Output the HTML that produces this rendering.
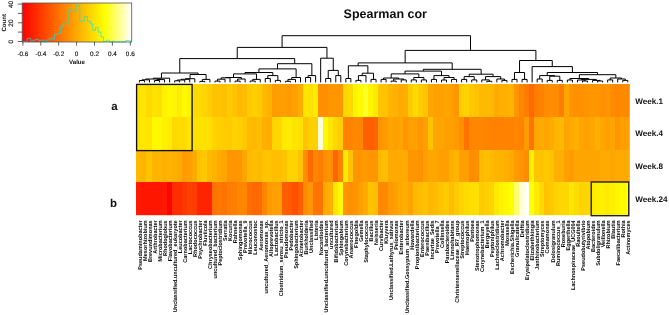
<!DOCTYPE html>
<html><head><meta charset="utf-8"><title>Spearman cor</title>
<style>
html,body{margin:0;padding:0;background:#fff;}
body{width:669px;height:315px;overflow:hidden;}
svg{display:block;will-change:transform;}
text{font-family:"Liberation Sans",sans-serif;text-rendering:geometricPrecision;}
</style></head><body>
<svg width="669" height="315" viewBox="0 0 669 315">
<defs><linearGradient id="kg" x1="0" x2="1" y1="0" y2="0"><stop offset="0" stop-color="#ff0000"/><stop offset="0.75" stop-color="#ffff00"/><stop offset="1" stop-color="#ffffff"/></linearGradient></defs>
<rect width="669" height="315" fill="#fff"/>
<g id="key">
<rect x="22.2" y="3.0" width="109.5" height="39.0" fill="url(#kg)"/>
<polyline fill="none" stroke="#00e8e8" stroke-width="0.65" points="22.2,41.5 27.2,41.5 27.2,38.4 30.8,38.4 30.8,41.3 32.6,41.3 32.6,40.2 35.7,40.2 35.7,39.3 38.4,39.3 38.4,40.6 40.6,40.6 40.6,40.2 44.2,40.2 44.2,42 46.5,42 46.5,40.2 49.1,40.2 49.1,38.4 52.7,38.4 52.7,39.3 54.5,39.3 54.5,34.3 57.2,34.3 57.2,33.5 60.4,33.5 60.4,26.7 63,26.7 63,24 65.7,24 65.7,23.1 68.9,23.1 68.9,9.4 71.5,9.4 71.5,11.2 76.2,11.2 76.2,5.4 79.8,5.4 79.8,21 84.3,21 84.3,16.6 87.5,16.6 87.5,21.3 90.6,21.3 90.6,24 92.8,24 92.8,30.3 95.5,30.3 95.5,27.6 98.2,27.6 98.2,32.1 100.9,32.1 100.9,37 103.6,37 103.6,41.5 106.7,41.5 106.7,40.2 109.4,40.2 109.4,42 112.1,42 112.1,41.1 114.8,41.1 114.8,42 125.6,42 125.6,40.6 130.5,40.6 130.5,42"/>
<rect x="22.2" y="3.0" width="109.5" height="39.0" fill="none" stroke="#555" stroke-width="0.8"/>
<line x1="22.9" y1="42" x2="22.9" y2="45.6" stroke="#222" stroke-width="0.7"/><text x="22.9" y="56.2" font-size="6.4" text-anchor="middle" fill="#111" stroke="#111" stroke-width="0.15">-0.6</text>
<line x1="40.8" y1="42" x2="40.8" y2="45.6" stroke="#222" stroke-width="0.7"/><text x="40.8" y="56.2" font-size="6.4" text-anchor="middle" fill="#111" stroke="#111" stroke-width="0.15">-0.4</text>
<line x1="58.7" y1="42" x2="58.7" y2="45.6" stroke="#222" stroke-width="0.7"/><text x="58.7" y="56.2" font-size="6.4" text-anchor="middle" fill="#111" stroke="#111" stroke-width="0.15">-0.2</text>
<line x1="76.6" y1="42" x2="76.6" y2="45.6" stroke="#222" stroke-width="0.7"/><text x="76.6" y="56.2" font-size="6.4" text-anchor="middle" fill="#111" stroke="#111" stroke-width="0.15">0</text>
<line x1="94.5" y1="42" x2="94.5" y2="45.6" stroke="#222" stroke-width="0.7"/><text x="94.5" y="56.2" font-size="6.4" text-anchor="middle" fill="#111" stroke="#111" stroke-width="0.15">0.2</text>
<line x1="112.4" y1="42" x2="112.4" y2="45.6" stroke="#222" stroke-width="0.7"/><text x="112.4" y="56.2" font-size="6.4" text-anchor="middle" fill="#111" stroke="#111" stroke-width="0.15">0.4</text>
<line x1="130.3" y1="42" x2="130.3" y2="45.6" stroke="#222" stroke-width="0.7"/><text x="130.3" y="56.2" font-size="6.4" text-anchor="middle" fill="#111" stroke="#111" stroke-width="0.15">0.6</text>
<text x="77" y="63.5" font-size="6.1" font-weight="bold" text-anchor="middle" fill="#111">Value</text>
<line x1="17.8" y1="41.5" x2="22.2" y2="41.5" stroke="#222" stroke-width="0.7"/><line x1="17.8" y1="32.1" x2="22.2" y2="32.1" stroke="#222" stroke-width="0.7"/><line x1="17.8" y1="22.8" x2="22.2" y2="22.8" stroke="#222" stroke-width="0.7"/><line x1="17.8" y1="13.4" x2="22.2" y2="13.4" stroke="#222" stroke-width="0.7"/><line x1="17.8" y1="4.1" x2="22.2" y2="4.1" stroke="#222" stroke-width="0.7"/><text transform="translate(12.8,41.8) rotate(-90)" font-size="6.4" text-anchor="middle" fill="#111" stroke="#111" stroke-width="0.15">0</text>
<text transform="translate(12.8,23.1) rotate(-90)" font-size="6.4" text-anchor="middle" fill="#111" stroke="#111" stroke-width="0.15">20</text>
<text transform="translate(12.8,4.3999999999999995) rotate(-90)" font-size="6.4" text-anchor="middle" fill="#111" stroke="#111" stroke-width="0.15">40</text>
<text transform="translate(6,22.8) rotate(-90)" font-size="6.1" font-weight="bold" text-anchor="middle" fill="#111">Count</text>
</g>
<text x="385.3" y="18.2" font-size="12.5" font-weight="bold" text-anchor="middle" fill="#111">Spearman cor</text>
<g id="heat" shape-rendering="crispEdges">
<rect x="136.40" y="83.80" width="5.33" height="33.15" fill="#ffe300"/><rect x="141.43" y="83.80" width="5.33" height="33.15" fill="#ffe600"/><rect x="146.47" y="83.80" width="5.33" height="33.15" fill="#ffd900"/><rect x="151.50" y="83.80" width="5.33" height="33.15" fill="#ffe300"/><rect x="156.54" y="83.80" width="5.33" height="33.15" fill="#ffdf00"/><rect x="161.57" y="83.80" width="5.33" height="33.15" fill="#fff300"/><rect x="166.61" y="83.80" width="5.33" height="33.15" fill="#fff700"/><rect x="171.64" y="83.80" width="5.33" height="33.15" fill="#fff500"/><rect x="176.68" y="83.80" width="5.33" height="33.15" fill="#ffed00"/><rect x="181.71" y="83.80" width="5.33" height="33.15" fill="#fffa00"/><rect x="186.75" y="83.80" width="5.33" height="33.15" fill="#fff300"/><rect x="191.78" y="83.80" width="10.37" height="33.15" fill="#ffda00"/><rect x="201.85" y="83.80" width="5.33" height="33.15" fill="#ffd400"/><rect x="206.89" y="83.80" width="5.33" height="33.15" fill="#ffcd00"/><rect x="211.92" y="83.80" width="10.37" height="33.15" fill="#ffc300"/><rect x="221.99" y="83.80" width="5.33" height="33.15" fill="#ffc000"/><rect x="227.02" y="83.80" width="5.33" height="33.15" fill="#ffcb00"/><rect x="232.06" y="83.80" width="5.33" height="33.15" fill="#ffc300"/><rect x="237.09" y="83.80" width="5.33" height="33.15" fill="#ffba00"/><rect x="242.13" y="83.80" width="5.33" height="33.15" fill="#ffbc00"/><rect x="247.16" y="83.80" width="5.33" height="33.15" fill="#ffcb00"/><rect x="252.20" y="83.80" width="5.33" height="33.15" fill="#ffd000"/><rect x="257.23" y="83.80" width="5.33" height="33.15" fill="#ffcb00"/><rect x="262.27" y="83.80" width="5.33" height="33.15" fill="#ffba00"/><rect x="267.30" y="83.80" width="5.33" height="33.15" fill="#ffb200"/><rect x="272.34" y="83.80" width="5.33" height="33.15" fill="#ff9d00"/><rect x="277.37" y="83.80" width="10.37" height="33.15" fill="#ff9e00"/><rect x="287.44" y="83.80" width="5.33" height="33.15" fill="#ff9b00"/><rect x="292.48" y="83.80" width="5.33" height="33.15" fill="#ffa000"/><rect x="297.51" y="83.80" width="5.33" height="33.15" fill="#ffac00"/><rect x="302.54" y="83.80" width="5.33" height="33.15" fill="#ffe600"/><rect x="307.58" y="83.80" width="5.33" height="33.15" fill="#ffe100"/><rect x="312.61" y="83.80" width="5.33" height="33.15" fill="#ffeb00"/><rect x="317.65" y="83.80" width="10.37" height="33.15" fill="#ff8f00"/><rect x="327.72" y="83.80" width="15.40" height="33.15" fill="#ff9600"/><rect x="342.82" y="83.80" width="5.33" height="33.15" fill="#ffd700"/><rect x="347.86" y="83.80" width="5.33" height="33.15" fill="#ffdc00"/><rect x="352.89" y="83.80" width="5.33" height="33.15" fill="#fff500"/><rect x="357.93" y="83.80" width="5.33" height="33.15" fill="#fffa00"/><rect x="362.96" y="83.80" width="5.33" height="33.15" fill="#ffff28"/><rect x="368.00" y="83.80" width="5.33" height="33.15" fill="#fff500"/><rect x="373.03" y="83.80" width="5.33" height="33.15" fill="#ffeb00"/><rect x="378.07" y="83.80" width="10.37" height="33.15" fill="#ffc300"/><rect x="388.13" y="83.80" width="5.33" height="33.15" fill="#ffb400"/><rect x="393.17" y="83.80" width="5.33" height="33.15" fill="#ffb200"/><rect x="398.20" y="83.80" width="5.33" height="33.15" fill="#ffaa00"/><rect x="403.24" y="83.80" width="5.33" height="33.15" fill="#ffac00"/><rect x="408.27" y="83.80" width="5.33" height="33.15" fill="#ffcd00"/><rect x="413.31" y="83.80" width="5.33" height="33.15" fill="#ffdc00"/><rect x="418.34" y="83.80" width="5.33" height="33.15" fill="#ffcd00"/><rect x="423.38" y="83.80" width="5.33" height="33.15" fill="#ffc300"/><rect x="428.41" y="83.80" width="5.33" height="33.15" fill="#ffa500"/><rect x="433.45" y="83.80" width="10.37" height="33.15" fill="#ffa000"/><rect x="443.52" y="83.80" width="5.33" height="33.15" fill="#ffa500"/><rect x="448.55" y="83.80" width="5.33" height="33.15" fill="#ffa000"/><rect x="453.59" y="83.80" width="5.33" height="33.15" fill="#ff9600"/><rect x="458.62" y="83.80" width="5.33" height="33.15" fill="#ffcd00"/><rect x="463.66" y="83.80" width="5.33" height="33.15" fill="#ffd200"/><rect x="468.69" y="83.80" width="5.33" height="33.15" fill="#ffc800"/><rect x="473.72" y="83.80" width="5.33" height="33.15" fill="#ffc300"/><rect x="478.76" y="83.80" width="15.40" height="33.15" fill="#ffb900"/><rect x="493.86" y="83.80" width="5.33" height="33.15" fill="#ffaa00"/><rect x="498.90" y="83.80" width="10.37" height="33.15" fill="#ffaf00"/><rect x="508.97" y="83.80" width="5.33" height="33.15" fill="#ffb400"/><rect x="514.00" y="83.80" width="5.33" height="33.15" fill="#ff9600"/><rect x="519.04" y="83.80" width="5.33" height="33.15" fill="#ff8700"/><rect x="524.07" y="83.80" width="5.33" height="33.15" fill="#ff7d00"/><rect x="529.11" y="83.80" width="5.33" height="33.15" fill="#ff6900"/><rect x="534.14" y="83.80" width="5.33" height="33.15" fill="#ff7d00"/><rect x="539.18" y="83.80" width="5.33" height="33.15" fill="#ff8200"/><rect x="544.21" y="83.80" width="5.33" height="33.15" fill="#ff8c00"/><rect x="549.24" y="83.80" width="5.33" height="33.15" fill="#ff8e00"/><rect x="554.28" y="83.80" width="5.33" height="33.15" fill="#ff8c00"/><rect x="559.31" y="83.80" width="5.33" height="33.15" fill="#ff7d00"/><rect x="564.35" y="83.80" width="5.33" height="33.15" fill="#ffa500"/><rect x="569.38" y="83.80" width="5.33" height="33.15" fill="#ff9300"/><rect x="574.42" y="83.80" width="10.37" height="33.15" fill="#ff9100"/><rect x="584.49" y="83.80" width="5.33" height="33.15" fill="#ff9300"/><rect x="589.52" y="83.80" width="10.37" height="33.15" fill="#ff9600"/><rect x="599.59" y="83.80" width="5.33" height="33.15" fill="#ff9100"/><rect x="604.63" y="83.80" width="5.33" height="33.15" fill="#ff9600"/><rect x="609.66" y="83.80" width="5.33" height="33.15" fill="#ff8c00"/><rect x="614.70" y="83.80" width="5.33" height="33.15" fill="#ff8700"/><rect x="619.73" y="83.80" width="10.37" height="33.15" fill="#ff8a00"/>
<rect x="136.40" y="116.65" width="5.33" height="33.15" fill="#ffe500"/><rect x="141.43" y="116.65" width="5.33" height="33.15" fill="#ffe800"/><rect x="146.47" y="116.65" width="5.33" height="33.15" fill="#ffe500"/><rect x="151.50" y="116.65" width="10.37" height="33.15" fill="#fff900"/><rect x="161.57" y="116.65" width="5.33" height="33.15" fill="#ffef00"/><rect x="166.61" y="116.65" width="5.33" height="33.15" fill="#ffec00"/><rect x="171.64" y="116.65" width="5.33" height="33.15" fill="#ffd800"/><rect x="176.68" y="116.65" width="10.37" height="33.15" fill="#ffdb00"/><rect x="186.75" y="116.65" width="5.33" height="33.15" fill="#ffe500"/><rect x="191.78" y="116.65" width="10.37" height="33.15" fill="#ffe100"/><rect x="201.85" y="116.65" width="5.33" height="33.15" fill="#ffe200"/><rect x="206.89" y="116.65" width="5.33" height="33.15" fill="#ffde00"/><rect x="211.92" y="116.65" width="5.33" height="33.15" fill="#ffd200"/><rect x="216.96" y="116.65" width="5.33" height="33.15" fill="#ffd000"/><rect x="221.99" y="116.65" width="5.33" height="33.15" fill="#ffcd00"/><rect x="227.02" y="116.65" width="5.33" height="33.15" fill="#ffcb00"/><rect x="232.06" y="116.65" width="5.33" height="33.15" fill="#ffd200"/><rect x="237.09" y="116.65" width="5.33" height="33.15" fill="#ffd000"/><rect x="242.13" y="116.65" width="5.33" height="33.15" fill="#ffc800"/><rect x="247.16" y="116.65" width="5.33" height="33.15" fill="#ffba00"/><rect x="252.20" y="116.65" width="5.33" height="33.15" fill="#ffb800"/><rect x="257.23" y="116.65" width="5.33" height="33.15" fill="#ffbe00"/><rect x="262.27" y="116.65" width="5.33" height="33.15" fill="#ffaf00"/><rect x="267.30" y="116.65" width="5.33" height="33.15" fill="#ffac00"/><rect x="272.34" y="116.65" width="5.33" height="33.15" fill="#ffd400"/><rect x="277.37" y="116.65" width="5.33" height="33.15" fill="#ffd700"/><rect x="282.41" y="116.65" width="10.37" height="33.15" fill="#ffeb00"/><rect x="292.48" y="116.65" width="5.33" height="33.15" fill="#ffe400"/><rect x="297.51" y="116.65" width="5.33" height="33.15" fill="#ffe100"/><rect x="302.54" y="116.65" width="5.33" height="33.15" fill="#ffc300"/><rect x="307.58" y="116.65" width="10.37" height="33.15" fill="#ffd000"/><rect x="317.65" y="116.65" width="5.33" height="33.15" fill="#ffffdc"/><rect x="322.68" y="116.65" width="5.33" height="33.15" fill="#fff800"/><rect x="327.72" y="116.65" width="5.33" height="33.15" fill="#ffe600"/><rect x="332.75" y="116.65" width="5.33" height="33.15" fill="#ffd700"/><rect x="337.79" y="116.65" width="5.33" height="33.15" fill="#ffcd00"/><rect x="342.82" y="116.65" width="10.37" height="33.15" fill="#ff8200"/><rect x="352.89" y="116.65" width="5.33" height="33.15" fill="#ff8a00"/><rect x="357.93" y="116.65" width="5.33" height="33.15" fill="#ff8700"/><rect x="362.96" y="116.65" width="10.37" height="33.15" fill="#ff5f00"/><rect x="373.03" y="116.65" width="5.33" height="33.15" fill="#ff6400"/><rect x="378.07" y="116.65" width="5.33" height="33.15" fill="#ff9600"/><rect x="383.10" y="116.65" width="5.33" height="33.15" fill="#ff9b00"/><rect x="388.13" y="116.65" width="5.33" height="33.15" fill="#ffa500"/><rect x="393.17" y="116.65" width="5.33" height="33.15" fill="#ffa000"/><rect x="398.20" y="116.65" width="5.33" height="33.15" fill="#ffa500"/><rect x="403.24" y="116.65" width="5.33" height="33.15" fill="#ff9600"/><rect x="408.27" y="116.65" width="10.37" height="33.15" fill="#ffa000"/><rect x="418.34" y="116.65" width="5.33" height="33.15" fill="#ff9600"/><rect x="423.38" y="116.65" width="5.33" height="33.15" fill="#ffa000"/><rect x="428.41" y="116.65" width="5.33" height="33.15" fill="#ffc300"/><rect x="433.45" y="116.65" width="10.37" height="33.15" fill="#ffa500"/><rect x="443.52" y="116.65" width="10.37" height="33.15" fill="#ffa000"/><rect x="453.59" y="116.65" width="5.33" height="33.15" fill="#ff9b00"/><rect x="458.62" y="116.65" width="5.33" height="33.15" fill="#ff9100"/><rect x="463.66" y="116.65" width="5.33" height="33.15" fill="#ff7300"/><rect x="468.69" y="116.65" width="15.40" height="33.15" fill="#ff8700"/><rect x="483.79" y="116.65" width="30.51" height="33.15" fill="#ff8200"/><rect x="514.00" y="116.65" width="5.33" height="33.15" fill="#ff8700"/><rect x="519.04" y="116.65" width="5.33" height="33.15" fill="#ff8200"/><rect x="524.07" y="116.65" width="5.33" height="33.15" fill="#ff9b00"/><rect x="529.11" y="116.65" width="5.33" height="33.15" fill="#ff7300"/><rect x="534.14" y="116.65" width="5.33" height="33.15" fill="#ffa500"/><rect x="539.18" y="116.65" width="5.33" height="33.15" fill="#ffaa00"/><rect x="544.21" y="116.65" width="5.33" height="33.15" fill="#ffa500"/><rect x="549.24" y="116.65" width="5.33" height="33.15" fill="#ffaa00"/><rect x="554.28" y="116.65" width="5.33" height="33.15" fill="#ffb400"/><rect x="559.31" y="116.65" width="5.33" height="33.15" fill="#ffb900"/><rect x="564.35" y="116.65" width="5.33" height="33.15" fill="#ffa500"/><rect x="569.38" y="116.65" width="5.33" height="33.15" fill="#ffaa00"/><rect x="574.42" y="116.65" width="5.33" height="33.15" fill="#ffaf00"/><rect x="579.45" y="116.65" width="5.33" height="33.15" fill="#ffa500"/><rect x="584.49" y="116.65" width="5.33" height="33.15" fill="#ffa000"/><rect x="589.52" y="116.65" width="5.33" height="33.15" fill="#ffa500"/><rect x="594.56" y="116.65" width="5.33" height="33.15" fill="#ffaf00"/><rect x="599.59" y="116.65" width="5.33" height="33.15" fill="#ffa500"/><rect x="604.63" y="116.65" width="5.33" height="33.15" fill="#ffa000"/><rect x="609.66" y="116.65" width="5.33" height="33.15" fill="#ffa500"/><rect x="614.70" y="116.65" width="5.33" height="33.15" fill="#ff9600"/><rect x="619.73" y="116.65" width="10.37" height="33.15" fill="#ffa000"/>
<rect x="136.40" y="149.50" width="5.33" height="33.15" fill="#ffb900"/><rect x="141.43" y="149.50" width="5.33" height="33.15" fill="#ffb400"/><rect x="146.47" y="149.50" width="5.33" height="33.15" fill="#ffc300"/><rect x="151.50" y="149.50" width="10.37" height="33.15" fill="#ffb400"/><rect x="161.57" y="149.50" width="5.33" height="33.15" fill="#ffaf00"/><rect x="166.61" y="149.50" width="5.33" height="33.15" fill="#ffb400"/><rect x="171.64" y="149.50" width="5.33" height="33.15" fill="#ffaf00"/><rect x="176.68" y="149.50" width="5.33" height="33.15" fill="#ffaa00"/><rect x="181.71" y="149.50" width="5.33" height="33.15" fill="#ff9b00"/><rect x="186.75" y="149.50" width="5.33" height="33.15" fill="#ffa000"/><rect x="191.78" y="149.50" width="5.33" height="33.15" fill="#ffaa00"/><rect x="196.82" y="149.50" width="5.33" height="33.15" fill="#ffc300"/><rect x="201.85" y="149.50" width="5.33" height="33.15" fill="#ffc800"/><rect x="206.89" y="149.50" width="5.33" height="33.15" fill="#ffb900"/><rect x="211.92" y="149.50" width="5.33" height="33.15" fill="#ffb400"/><rect x="216.96" y="149.50" width="5.33" height="33.15" fill="#ffaa00"/><rect x="221.99" y="149.50" width="5.33" height="33.15" fill="#ffa500"/><rect x="227.02" y="149.50" width="15.40" height="33.15" fill="#ff9600"/><rect x="242.13" y="149.50" width="5.33" height="33.15" fill="#ffa500"/><rect x="247.16" y="149.50" width="5.33" height="33.15" fill="#ffb900"/><rect x="252.20" y="149.50" width="5.33" height="33.15" fill="#ffbe00"/><rect x="257.23" y="149.50" width="5.33" height="33.15" fill="#ffb900"/><rect x="262.27" y="149.50" width="10.37" height="33.15" fill="#ffc300"/><rect x="272.34" y="149.50" width="10.37" height="33.15" fill="#ffbe00"/><rect x="282.41" y="149.50" width="5.33" height="33.15" fill="#ffc300"/><rect x="287.44" y="149.50" width="10.37" height="33.15" fill="#ffd200"/><rect x="297.51" y="149.50" width="5.33" height="33.15" fill="#ffc300"/><rect x="302.54" y="149.50" width="5.33" height="33.15" fill="#ff8c00"/><rect x="307.58" y="149.50" width="5.33" height="33.15" fill="#ff6900"/><rect x="312.61" y="149.50" width="5.33" height="33.15" fill="#ff8700"/><rect x="317.65" y="149.50" width="5.33" height="33.15" fill="#ff7d00"/><rect x="322.68" y="149.50" width="10.37" height="33.15" fill="#ff9100"/><rect x="332.75" y="149.50" width="5.33" height="33.15" fill="#ff6400"/><rect x="337.79" y="149.50" width="5.33" height="33.15" fill="#ff8200"/><rect x="342.82" y="149.50" width="5.33" height="33.15" fill="#ffeb00"/><rect x="347.86" y="149.50" width="5.33" height="33.15" fill="#ffc300"/><rect x="352.89" y="149.50" width="10.37" height="33.15" fill="#ff9600"/><rect x="362.96" y="149.50" width="5.33" height="33.15" fill="#ff9b00"/><rect x="368.00" y="149.50" width="10.37" height="33.15" fill="#ff9600"/><rect x="378.07" y="149.50" width="5.33" height="33.15" fill="#ffb900"/><rect x="383.10" y="149.50" width="5.33" height="33.15" fill="#ffbe00"/><rect x="388.13" y="149.50" width="20.44" height="33.15" fill="#ffaa00"/><rect x="408.27" y="149.50" width="10.37" height="33.15" fill="#ff9600"/><rect x="418.34" y="149.50" width="5.33" height="33.15" fill="#ff9100"/><rect x="423.38" y="149.50" width="5.33" height="33.15" fill="#ffa000"/><rect x="428.41" y="149.50" width="10.37" height="33.15" fill="#ffa500"/><rect x="438.48" y="149.50" width="10.37" height="33.15" fill="#ffa000"/><rect x="448.55" y="149.50" width="5.33" height="33.15" fill="#ffaf00"/><rect x="453.59" y="149.50" width="5.33" height="33.15" fill="#ffb400"/><rect x="458.62" y="149.50" width="10.37" height="33.15" fill="#ffa000"/><rect x="468.69" y="149.50" width="5.33" height="33.15" fill="#ff8c00"/><rect x="473.72" y="149.50" width="5.33" height="33.15" fill="#ff9100"/><rect x="478.76" y="149.50" width="5.33" height="33.15" fill="#ffb900"/><rect x="483.79" y="149.50" width="5.33" height="33.15" fill="#ffbe00"/><rect x="488.83" y="149.50" width="5.33" height="33.15" fill="#ffb900"/><rect x="493.86" y="149.50" width="10.37" height="33.15" fill="#ffb400"/><rect x="503.93" y="149.50" width="5.33" height="33.15" fill="#ffaf00"/><rect x="508.97" y="149.50" width="5.33" height="33.15" fill="#ffaa00"/><rect x="514.00" y="149.50" width="5.33" height="33.15" fill="#ff9b00"/><rect x="519.04" y="149.50" width="5.33" height="33.15" fill="#ff9600"/><rect x="524.07" y="149.50" width="5.33" height="33.15" fill="#ff8c00"/><rect x="529.11" y="149.50" width="5.33" height="33.15" fill="#fff000"/><rect x="534.14" y="149.50" width="10.37" height="33.15" fill="#ffc300"/><rect x="544.21" y="149.50" width="5.33" height="33.15" fill="#ffc800"/><rect x="549.24" y="149.50" width="5.33" height="33.15" fill="#ffc300"/><rect x="554.28" y="149.50" width="10.37" height="33.15" fill="#ffaf00"/><rect x="564.35" y="149.50" width="5.33" height="33.15" fill="#ffa000"/><rect x="569.38" y="149.50" width="5.33" height="33.15" fill="#ff9b00"/><rect x="574.42" y="149.50" width="25.47" height="33.15" fill="#ffa500"/><rect x="599.59" y="149.50" width="10.37" height="33.15" fill="#ffaa00"/><rect x="609.66" y="149.50" width="5.33" height="33.15" fill="#ffa500"/><rect x="614.70" y="149.50" width="15.40" height="33.15" fill="#ffaa00"/>
<rect x="136.40" y="182.35" width="5.33" height="33.15" fill="#ff1900"/><rect x="141.43" y="182.35" width="20.44" height="33.15" fill="#ff1600"/><rect x="161.57" y="182.35" width="5.33" height="33.15" fill="#ff1900"/><rect x="166.61" y="182.35" width="5.33" height="33.15" fill="#ff0500"/><rect x="171.64" y="182.35" width="10.37" height="33.15" fill="#ff2d00"/><rect x="181.71" y="182.35" width="5.33" height="33.15" fill="#ff3700"/><rect x="186.75" y="182.35" width="5.33" height="33.15" fill="#ff4100"/><rect x="191.78" y="182.35" width="5.33" height="33.15" fill="#ff3c00"/><rect x="196.82" y="182.35" width="15.40" height="33.15" fill="#ff2300"/><rect x="211.92" y="182.35" width="5.33" height="33.15" fill="#ff7300"/><rect x="216.96" y="182.35" width="5.33" height="33.15" fill="#ff7800"/><rect x="221.99" y="182.35" width="5.33" height="33.15" fill="#ff7300"/><rect x="227.02" y="182.35" width="10.37" height="33.15" fill="#ff7d00"/><rect x="237.09" y="182.35" width="10.37" height="33.15" fill="#ff8700"/><rect x="247.16" y="182.35" width="5.33" height="33.15" fill="#ff6e00"/><rect x="252.20" y="182.35" width="10.37" height="33.15" fill="#ff6900"/><rect x="262.27" y="182.35" width="5.33" height="33.15" fill="#ff8700"/><rect x="267.30" y="182.35" width="5.33" height="33.15" fill="#ff9b00"/><rect x="272.34" y="182.35" width="10.37" height="33.15" fill="#ffa000"/><rect x="282.41" y="182.35" width="5.33" height="33.15" fill="#ff5f00"/><rect x="287.44" y="182.35" width="5.33" height="33.15" fill="#ff5a00"/><rect x="292.48" y="182.35" width="5.33" height="33.15" fill="#ff5000"/><rect x="297.51" y="182.35" width="5.33" height="33.15" fill="#ff5f00"/><rect x="302.54" y="182.35" width="5.33" height="33.15" fill="#ff8c00"/><rect x="307.58" y="182.35" width="5.33" height="33.15" fill="#ff9600"/><rect x="312.61" y="182.35" width="10.37" height="33.15" fill="#ff7300"/><rect x="322.68" y="182.35" width="5.33" height="33.15" fill="#ffaa00"/><rect x="327.72" y="182.35" width="5.33" height="33.15" fill="#ffaf00"/><rect x="332.75" y="182.35" width="5.33" height="33.15" fill="#ffe600"/><rect x="337.79" y="182.35" width="5.33" height="33.15" fill="#fffa00"/><rect x="342.82" y="182.35" width="5.33" height="33.15" fill="#ff9600"/><rect x="347.86" y="182.35" width="5.33" height="33.15" fill="#ff9100"/><rect x="352.89" y="182.35" width="5.33" height="33.15" fill="#ff9600"/><rect x="357.93" y="182.35" width="5.33" height="33.15" fill="#ffa000"/><rect x="362.96" y="182.35" width="5.33" height="33.15" fill="#ffaa00"/><rect x="368.00" y="182.35" width="5.33" height="33.15" fill="#ffc300"/><rect x="373.03" y="182.35" width="5.33" height="33.15" fill="#ffbe00"/><rect x="378.07" y="182.35" width="5.33" height="33.15" fill="#ff8700"/><rect x="383.10" y="182.35" width="5.33" height="33.15" fill="#ff8c00"/><rect x="388.13" y="182.35" width="5.33" height="33.15" fill="#ff9b00"/><rect x="393.17" y="182.35" width="5.33" height="33.15" fill="#ffa000"/><rect x="398.20" y="182.35" width="5.33" height="33.15" fill="#ffaa00"/><rect x="403.24" y="182.35" width="5.33" height="33.15" fill="#ffaf00"/><rect x="408.27" y="182.35" width="5.33" height="33.15" fill="#ffa300"/><rect x="413.31" y="182.35" width="5.33" height="33.15" fill="#ffb700"/><rect x="418.34" y="182.35" width="5.33" height="33.15" fill="#ffbc00"/><rect x="423.38" y="182.35" width="5.33" height="33.15" fill="#ffc100"/><rect x="428.41" y="182.35" width="5.33" height="33.15" fill="#ffb700"/><rect x="433.45" y="182.35" width="5.33" height="33.15" fill="#ffbc00"/><rect x="438.48" y="182.35" width="5.33" height="33.15" fill="#ffc600"/><rect x="443.52" y="182.35" width="5.33" height="33.15" fill="#ffcb00"/><rect x="448.55" y="182.35" width="5.33" height="33.15" fill="#ffbc00"/><rect x="453.59" y="182.35" width="5.33" height="33.15" fill="#ffcb00"/><rect x="458.62" y="182.35" width="5.33" height="33.15" fill="#ffd500"/><rect x="463.66" y="182.35" width="5.33" height="33.15" fill="#ffda00"/><rect x="468.69" y="182.35" width="10.37" height="33.15" fill="#ffdf00"/><rect x="478.76" y="182.35" width="5.33" height="33.15" fill="#ffcb00"/><rect x="483.79" y="182.35" width="5.33" height="33.15" fill="#ffd000"/><rect x="488.83" y="182.35" width="5.33" height="33.15" fill="#ffd500"/><rect x="493.86" y="182.35" width="5.33" height="33.15" fill="#ffe900"/><rect x="498.90" y="182.35" width="5.33" height="33.15" fill="#fff300"/><rect x="503.93" y="182.35" width="5.33" height="33.15" fill="#fff800"/><rect x="508.97" y="182.35" width="5.33" height="33.15" fill="#ffff00"/><rect x="514.00" y="182.35" width="5.33" height="33.15" fill="#ffff6e"/><rect x="519.04" y="182.35" width="5.33" height="33.15" fill="#ffffd7"/><rect x="524.07" y="182.35" width="5.33" height="33.15" fill="#fffff5"/><rect x="529.11" y="182.35" width="5.33" height="33.15" fill="#ffff0a"/><rect x="534.14" y="182.35" width="5.33" height="33.15" fill="#ffeb00"/><rect x="539.18" y="182.35" width="5.33" height="33.15" fill="#ffd900"/><rect x="544.21" y="182.35" width="5.33" height="33.15" fill="#ffc300"/><rect x="549.24" y="182.35" width="5.33" height="33.15" fill="#ffc800"/><rect x="554.28" y="182.35" width="5.33" height="33.15" fill="#ffd200"/><rect x="559.31" y="182.35" width="10.37" height="33.15" fill="#ffd700"/><rect x="569.38" y="182.35" width="5.33" height="33.15" fill="#ffe600"/><rect x="574.42" y="182.35" width="5.33" height="33.15" fill="#ffdc00"/><rect x="579.45" y="182.35" width="5.33" height="33.15" fill="#ffd200"/><rect x="584.49" y="182.35" width="5.33" height="33.15" fill="#ffd700"/><rect x="589.52" y="182.35" width="5.33" height="33.15" fill="#ffeb00"/><rect x="594.56" y="182.35" width="10.37" height="33.15" fill="#fff000"/><rect x="604.63" y="182.35" width="5.33" height="33.15" fill="#ffeb00"/><rect x="609.66" y="182.35" width="5.33" height="33.15" fill="#fff000"/><rect x="614.70" y="182.35" width="5.33" height="33.15" fill="#fff500"/><rect x="619.73" y="182.35" width="5.33" height="33.15" fill="#fffa00"/><rect x="624.77" y="182.35" width="5.33" height="33.15" fill="#fffc00"/>
</g>
<rect x="629.80" y="82.8" width="2" height="134.4" fill="#fff"/>
<rect x="135.4" y="215.20" width="496.4" height="2" fill="#fff"/>
<rect x="136.6" y="84.4" width="55.5" height="66.2" fill="none" stroke="#111" stroke-width="1.35"/>
<rect x="591.2" y="182.0" width="37.6" height="33.7" fill="none" stroke="#1a1a1a" stroke-width="1.35"/>
<text x="635.2" y="103.5" font-size="8.1" font-weight="bold" fill="#111">Week.1</text>
<text x="635.2" y="136.4" font-size="8.1" font-weight="bold" fill="#111">Week.4</text>
<text x="635.2" y="169.2" font-size="8.1" font-weight="bold" fill="#111">Week.8</text>
<text x="635.2" y="202.1" font-size="8.1" font-weight="bold" fill="#111">Week.24</text>
<text x="111.3" y="110.4" font-size="11.5" font-weight="bold" fill="#111">a</text>
<text x="109.9" y="206.6" font-size="11.5" font-weight="bold" fill="#111">b</text>
<g font-size="5.54" font-weight="bold" fill="#000" text-anchor="end">
<text transform="translate(141.67,220.3) rotate(-90)">Pseudaminobacter</text>
<text transform="translate(146.70,220.3) rotate(-90)">Mesorhizobium</text>
<text transform="translate(151.74,220.3) rotate(-90)">Brevundimonas</text>
<text transform="translate(156.77,220.3) rotate(-90)">Arthrobacter</text>
<text transform="translate(161.81,220.3) rotate(-90)">Microbacterium</text>
<text transform="translate(166.84,220.3) rotate(-90)">Rhodoglobus</text>
<text transform="translate(171.88,220.3) rotate(-90)">Flavobacterium</text>
<text transform="translate(176.91,220.3) rotate(-90)">Unclassified.uncultured_eukaryote</text>
<text transform="translate(181.94,220.3) rotate(-90)">Leucobacter</text>
<text transform="translate(186.98,220.3) rotate(-90)">Carnobacterium</text>
<text transform="translate(192.01,220.3) rotate(-90)">Lactococcus</text>
<text transform="translate(197.05,220.3) rotate(-90)">Rhodococcus</text>
<text transform="translate(202.08,220.3) rotate(-90)">Psychrobacter</text>
<text transform="translate(207.12,220.3) rotate(-90)">Fluviicola</text>
<text transform="translate(212.15,220.3) rotate(-90)">Chryseobacterium</text>
<text transform="translate(217.19,220.3) rotate(-90)">uncultured_bacterium</text>
<text transform="translate(222.22,220.3) rotate(-90)">Peptoclostridium</text>
<text transform="translate(227.26,220.3) rotate(-90)">Serratia</text>
<text transform="translate(232.29,220.3) rotate(-90)">Kocuria</text>
<text transform="translate(237.33,220.3) rotate(-90)">Rahnella</text>
<text transform="translate(242.36,220.3) rotate(-90)">Sphingomonas</text>
<text transform="translate(247.40,220.3) rotate(-90)">Prevotella_9</text>
<text transform="translate(252.43,220.3) rotate(-90)">Micrococcus</text>
<text transform="translate(257.47,220.3) rotate(-90)">Leuconostoc</text>
<text transform="translate(262.50,220.3) rotate(-90)">Aeromonas</text>
<text transform="translate(267.53,220.3) rotate(-90)">uncultured_Aeromonas_sp.</text>
<text transform="translate(272.57,220.3) rotate(-90)">Alloprevotella</text>
<text transform="translate(277.60,220.3) rotate(-90)">Lactobacillus</text>
<text transform="translate(282.64,220.3) rotate(-90)">Clostridium_sensu_stricto_1</text>
<text transform="translate(287.67,220.3) rotate(-90)">Pseudomonas</text>
<text transform="translate(292.71,220.3) rotate(-90)">Pedobacter</text>
<text transform="translate(297.74,220.3) rotate(-90)">Sphingobacterium</text>
<text transform="translate(302.78,220.3) rotate(-90)">Acinetobacter</text>
<text transform="translate(307.81,220.3) rotate(-90)">Burkholderia</text>
<text transform="translate(312.85,220.3) rotate(-90)">Unclassified</text>
<text transform="translate(317.88,220.3) rotate(-90)">Listeria</text>
<text transform="translate(322.92,220.3) rotate(-90)">Nocardioides</text>
<text transform="translate(327.95,220.3) rotate(-90)">Unclassified.uncultured_bacterium</text>
<text transform="translate(332.99,220.3) rotate(-90)">uncultured</text>
<text transform="translate(338.02,220.3) rotate(-90)">Bifidobacterium</text>
<text transform="translate(343.06,220.3) rotate(-90)">Sphingobium</text>
<text transform="translate(348.09,220.3) rotate(-90)">Corynebacterium</text>
<text transform="translate(353.12,220.3) rotate(-90)">Anaerococcus</text>
<text transform="translate(358.16,220.3) rotate(-90)">Finegoldia</text>
<text transform="translate(363.19,220.3) rotate(-90)">Gemella</text>
<text transform="translate(368.23,220.3) rotate(-90)">Staphylococcus</text>
<text transform="translate(373.26,220.3) rotate(-90)">Bacillus</text>
<text transform="translate(378.30,220.3) rotate(-90)">Neisseria</text>
<text transform="translate(383.33,220.3) rotate(-90)">Curvibacter</text>
<text transform="translate(388.37,220.3) rotate(-90)">Kluyvera</text>
<text transform="translate(393.40,220.3) rotate(-90)">Unclassified.Lathyrus_sativus</text>
<text transform="translate(398.44,220.3) rotate(-90)">Pelomonas</text>
<text transform="translate(403.47,220.3) rotate(-90)">Enterobacter</text>
<text transform="translate(408.51,220.3) rotate(-90)">Unclassified.Gossypium_arboreum</text>
<text transform="translate(413.54,220.3) rotate(-90)">Howardella</text>
<text transform="translate(418.58,220.3) rotate(-90)">Propionibacterium</text>
<text transform="translate(423.61,220.3) rotate(-90)">Enterococcus</text>
<text transform="translate(428.64,220.3) rotate(-90)">Paenibacillus</text>
<text transform="translate(433.68,220.3) rotate(-90)">Incertae_Sedis</text>
<text transform="translate(438.71,220.3) rotate(-90)">Prevotella_7</text>
<text transform="translate(443.75,220.3) rotate(-90)">Collinsella</text>
<text transform="translate(448.78,220.3) rotate(-90)">Parabacteroides</text>
<text transform="translate(453.82,220.3) rotate(-90)">Limnohabitans</text>
<text transform="translate(458.85,220.3) rotate(-90)">Christensenellaceae_R7_group</text>
<text transform="translate(463.89,220.3) rotate(-90)">Streptococcus</text>
<text transform="translate(468.92,220.3) rotate(-90)">Haemophilus</text>
<text transform="translate(473.96,220.3) rotate(-90)">Pantoea</text>
<text transform="translate(478.99,220.3) rotate(-90)">Stenotrophomonas</text>
<text transform="translate(484.03,220.3) rotate(-90)">Corynebacterium_1</text>
<text transform="translate(489.06,220.3) rotate(-90)">Bergeyella</text>
<text transform="translate(494.10,220.3) rotate(-90)">Peptoniphilus</text>
<text transform="translate(499.13,220.3) rotate(-90)">Lachnoclostridium</text>
<text transform="translate(504.17,220.3) rotate(-90)">Achromobacter</text>
<text transform="translate(509.20,220.3) rotate(-90)">Moraxella</text>
<text transform="translate(514.23,220.3) rotate(-90)">Escherichia.Shigella</text>
<text transform="translate(519.27,220.3) rotate(-90)">Granulicatella</text>
<text transform="translate(524.30,220.3) rotate(-90)">Delftia</text>
<text transform="translate(529.34,220.3) rotate(-90)">Erysipelatoclostridium</text>
<text transform="translate(534.37,220.3) rotate(-90)">Elizabethkingia</text>
<text transform="translate(539.41,220.3) rotate(-90)">Janthinobacterium</text>
<text transform="translate(544.44,220.3) rotate(-90)">Streptomyces</text>
<text transform="translate(549.48,220.3) rotate(-90)">Comamonas</text>
<text transform="translate(554.51,220.3) rotate(-90)">Dolosigranulum</text>
<text transform="translate(559.55,220.3) rotate(-90)">Ruminococcus_1</text>
<text transform="translate(564.58,220.3) rotate(-90)">Roseburia</text>
<text transform="translate(569.62,220.3) rotate(-90)">Eggerthella</text>
<text transform="translate(574.65,220.3) rotate(-90)">Lachnospiraceae_UCG004</text>
<text transform="translate(579.69,220.3) rotate(-90)">Raoultella</text>
<text transform="translate(584.72,220.3) rotate(-90)">Pseudobutyrivibrio</text>
<text transform="translate(589.76,220.3) rotate(-90)">Atopobium</text>
<text transform="translate(594.79,220.3) rotate(-90)">Bacteroides</text>
<text transform="translate(599.82,220.3) rotate(-90)">Subdoligranulum</text>
<text transform="translate(604.86,220.3) rotate(-90)">Veillonella</text>
<text transform="translate(609.89,220.3) rotate(-90)">Rhizobium</text>
<text transform="translate(614.93,220.3) rotate(-90)">Blautia</text>
<text transform="translate(619.96,220.3) rotate(-90)">Faecalibacterium</text>
<text transform="translate(625.00,220.3) rotate(-90)">Rothia</text>
<text transform="translate(630.03,220.3) rotate(-90)">Actinomyces</text>
</g>
<path fill="none" stroke="#000" stroke-width="1" stroke-linejoin="miter" d="M139.42,82.40V80.50H144.45V82.40M141.93,80.50V79.80H149.49V82.40M154.52,82.40V80.50H159.56V82.40M157.04,80.50V79.60H164.59V82.40M145.71,79.80V79.00H160.81V79.60M153.26,79.00V78.20H169.63V82.40M174.66,82.40V80.80H179.69V82.40M177.18,80.80V80.00H184.73V82.40M180.95,80.00V79.30H189.76V82.40M185.36,79.30V78.70H194.80V82.40M199.83,82.40V81.40H204.87V82.40M202.35,81.40V79.40H209.90V82.40M190.08,78.70V74.50H206.13V79.40M161.44,78.20V73.00H198.10V74.50M214.94,82.40V81.10H219.97V82.40M217.46,81.10V79.20H225.01V82.40M221.23,79.20V77.80H230.04V82.40M235.08,82.40V81.10H240.11V82.40M237.59,81.10V79.00H245.15V82.40M225.64,77.80V77.50H241.37V79.00M250.18,82.40V81.00H255.22V82.40M252.70,81.00V79.40H260.25V82.40M233.50,77.50V73.90H256.47V79.40M265.28,82.40V78.50H270.32V82.40M275.35,82.40V80.40H280.39V82.40M267.80,78.50V75.60H277.87V80.40M244.99,73.90V72.50H272.84V75.60M285.42,82.40V81.30H290.46V82.40M287.94,81.30V79.40H295.49V82.40M291.72,79.40V77.50H300.53V82.40M258.91,72.50V68.90H296.12V77.50M305.56,82.40V77.50H310.60V82.40M308.08,77.50V75.60H315.63V82.40M277.52,68.90V63.70H311.86V75.60M179.77,73.00V58.60H294.69V63.70M325.70,82.40V78.50H330.74V82.40M335.77,82.40V75.60H340.81V82.40M328.22,78.50V70.40H338.29V75.60M320.67,82.40V58.20H333.25V70.40M237.23,58.60V47.40H326.96V58.20M345.84,82.40V78.50H350.87V82.40M355.91,82.40V80.40H360.94V82.40M358.43,80.40V75.60H365.98V82.40M371.01,82.40V79.40H376.05V82.40M362.20,75.60V73.20H373.53V79.40M348.36,78.50V65.80H367.87V73.20M381.08,82.40V79.40H386.12V82.40M391.15,82.40V81.10H396.19V82.40M401.22,82.40V79.90H406.26V82.40M393.67,81.10V79.00H403.74V79.90M383.60,79.40V78.00H398.70V79.00M411.29,82.40V79.90H416.33V82.40M421.36,82.40V79.90H426.39V82.40M413.81,79.90V77.50H423.88V79.90M391.15,78.00V73.90H418.84V77.50M431.43,82.40V79.40H436.46V82.40M441.50,82.40V80.00H446.53V82.40M451.57,82.40V79.40H456.60V82.40M444.02,80.00V77.50H454.09V79.40M433.95,79.40V75.60H449.05V77.50M405.00,73.90V71.10H441.50V75.60M461.64,82.40V79.40H466.67V82.40M471.71,82.40V79.90H476.74V82.40M464.16,79.40V76.60H474.22V79.90M486.81,82.40V81.30H491.85V82.40M481.78,82.40V79.90H489.33V81.30M501.92,82.40V80.40H506.95V82.40M496.88,82.40V79.00H504.43V80.40M485.55,79.90V76.60H500.66V79.00M469.19,76.60V74.20H493.10V76.60M423.25,71.10V69.30H481.15V74.20M358.11,65.80V62.90H452.20V69.30M511.98,82.40V79.40H517.02V82.40M522.05,82.40V79.40H527.09V82.40M514.50,79.40V72.50H524.57V79.40M537.16,82.40V79.00H542.19V82.40M547.23,82.40V80.40H552.26V82.40M557.30,82.40V80.40H562.33V82.40M549.74,80.40V76.20H559.81V80.40M539.68,79.00V75.60H554.78V76.20M567.37,82.40V80.00H572.40V82.40M582.47,82.40V81.00H587.51V82.40M577.44,82.40V80.00H584.99V81.00M597.57,82.40V81.00H602.61V82.40M592.54,82.40V80.40H600.09V81.00M581.21,80.00V79.40H596.32V80.40M569.88,80.00V78.50H588.76V79.40M607.64,82.40V79.90H612.68V82.40M622.75,82.40V80.40H627.78V82.40M617.71,82.40V79.00H625.27V80.40M610.16,79.90V78.00H621.49V79.00M579.32,78.50V74.70H615.83V78.00M547.23,75.60V72.50H597.57V74.70M532.12,82.40V66.60H572.40V72.50M519.54,72.50V60.50H552.26V66.60M405.15,62.90V50.40H535.90V60.50M282.09,47.40V35.70H470.53V50.40"/>
</svg>
</body></html>
